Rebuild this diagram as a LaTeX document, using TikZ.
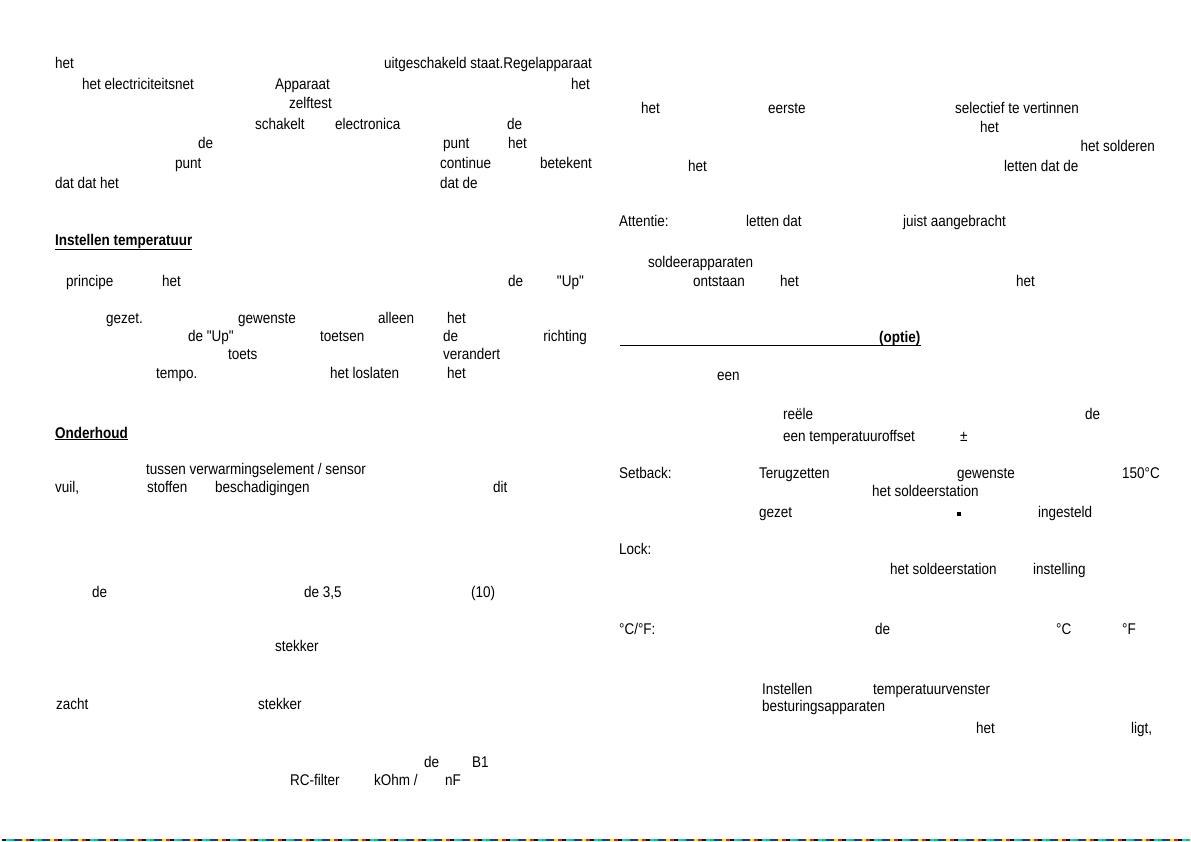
\documentclass[tikz,border=0pt]{standalone}
\usepackage{fontspec}
\setmainfont{Liberation Sans}[FakeStretch=0.87, Ligatures=TeXOff]
\usetikzlibrary{positioning}
\definecolor{scan0}{RGB}{20,20,20}
\definecolor{scan1}{RGB}{0,60,255}
\definecolor{scan2}{RGB}{230,30,30}
\definecolor{scan3}{RGB}{0,210,90}
\definecolor{scan4}{RGB}{250,230,0}
\definecolor{scan5}{RGB}{0,220,230}
\definecolor{scan6}{RGB}{60,60,60}

\begin{document}
\begin{tikzpicture}[x=1pt, y=-1pt, font=\fontsize{15.5}{17}\selectfont]
\tikzstyle{word}=[anchor=base west, inner sep=0pt, text=black]
\tikzstyle{wordr}=[word, anchor=base east]
\tikzstyle{head}=[word, font=\fontsize{15.5}{17}\selectfont\bfseries]
\useasboundingbox (0,0) rectangle (1191,841);
% left column
\node[word]  (A1) at (55,68)   {het};
\node[wordr] (A2) at (592,68)  {uitgeschakeld staat.Regelapparaat};
\node[word]  (A3) at (82,89)   {het electriciteitsnet};
\node[word]  (A4) at (275,89)  {Apparaat};
\node[wordr] (A5) at (590,89)  {het};
\node[word]  (A6) at (289,108) {zelftest};
\node[word]  (A7) at (255,129) {schakelt};
\node[word]  (A8) at (335,129) {electronica};
\node[word]  (A9) at (507,129) {de};
\node[word]  (A10) at (198,148) {de};
\node[word]  (A11) at (443,148) {punt};
\node[word]  (A12) at (508,148) {het};
\node[word]  (A13) at (175,168) {punt};
\node[word]  (A14) at (440,168) {continue};
\node[wordr] (A15) at (592,168) {betekent};
\node[word]  (A16) at (55,188)  {dat dat het};
\node[word]  (A17) at (440,188) {dat de};

\node[head]  (B0) at (55,245)  {\underline{Instellen temperatuur}};
\node[word]  (B1) at (66,286)  {principe};
\node[word]  (B2) at (162,286) {het};
\node[word]  (B3) at (508,286) {de};
\node[wordr] (B4) at (584,286) {"Up"};
\node[word]  (B5) at (106,323) {gezet.};
\node[word]  (B6) at (238,323) {gewenste};
\node[word]  (B7) at (378,323) {alleen};
\node[word]  (B8) at (447,323) {het};
\node[word]  (B9) at (188,341) {de "Up"};
\node[word]  (B10) at (320,341) {toetsen};
\node[word]  (B11) at (443,341) {de};
\node[wordr] (B12) at (587,341) {richting};
\node[word]  (B13) at (228,359) {toets};
\node[word]  (B14) at (443,359) {verandert};
\node[word]  (B15) at (156,378) {tempo.};
\node[word]  (B16) at (330,378) {het loslaten};
\node[word]  (B17) at (447,378) {het};

\node[head]  (C0) at (55,438)  {\underline{Onderhoud}};
\node[word]  (C1) at (146,474) {tussen verwarmingselement / sensor};
\node[word]  (C2) at (55,492)  {vuil,};
\node[word]  (C3) at (147,492) {stoffen};
\node[word]  (C4) at (215,492) {beschadigingen};
\node[word]  (C5) at (493,492) {dit};
\node[word]  (C6) at (92,597)  {de};
\node[word]  (C7) at (304,597) {de 3,5};
\node[word]  (C8) at (471,597) {(10)};
\node[word]  (C9) at (275,651) {stekker};
\node[word]  (C10) at (56,709) {zacht};
\node[word]  (C11) at (258,709) {stekker};
\node[word]  (C12) at (424,767) {de};
\node[word]  (C13) at (472,767) {B1};
\node[word]  (C14) at (290,785) {RC-filter};
\node[word]  (C15) at (374,785) {kOhm /};
\node[word]  (C16) at (445,785) {nF};

% right column
\node[word]  (D1) at (641,113)  {het};
\node[word]  (D2) at (768,113)  {eerste};
\node[word]  (D3) at (955,113)  {selectief te vertinnen};
\node[word]  (D4) at (980,132)  {het};
\node[wordr] (D5) at (1155,151) {het solderen};
\node[word]  (D6) at (688,171)  {het};
\node[word]  (D7) at (1004,171) {letten dat de};
\node[word]  (D8) at (619,226)  {Attentie:};
\node[word]  (D9) at (746,226)  {letten dat};
\node[word]  (D10) at (903,226) {juist aangebracht};
\node[word]  (D11) at (648,267) {soldeerapparaten};
\node[word]  (D12) at (693,286) {ontstaan};
\node[word]  (D13) at (780,286) {het};
\node[word]  (D14) at (1016,286) {het};

\coordinate (E0) at (620,342);
\node[head]  (E1) at (879,342)  {(optie)};
\draw[line width=1pt] ([yshift=-3pt]E0) -- ([yshift=-3pt]E1.base east);
\node[word]  (E2) at (717,380)  {een};
\node[word]  (E3) at (783,419)  {reële};
\node[word]  (E4) at (1085,419) {de};
\node[word]  (E5) at (783,441)  {een temperatuuroffset};
\node[word]  (E6) at (960,441)  {±};
\node[word]  (E7) at (619,478)  {Setback:};
\node[word]  (E8) at (759,478)  {Terugzetten};
\node[word]  (E9) at (957,478)  {gewenste};
\node[word]  (E10) at (1122,478) {150°C};
\node[word]  (E11) at (872,496) {het soldeerstation};
\node[word]  (E12) at (759,517) {gezet};
\node[word]  (E13) at (957,516) {\rule{4pt}{4pt}};
\node[word]  (E14) at (1038,517) {ingesteld};
\node[word]  (E15) at (619,554) {Lock:};
\node[word]  (E16) at (890,574) {het soldeerstation};
\node[word]  (E17) at (1033,574) {instelling};
\node[word]  (E18) at (619,634) {°C/°F:};
\node[word]  (E19) at (875,634) {de};
\node[word]  (E20) at (1056,634) {°C};
\node[word]  (E21) at (1122,634) {°F};
\node[word]  (E22) at (762,694) {Instellen};
\node[word]  (E23) at (873,694) {temperatuurvenster};
\node[word]  (E24) at (762,711) {besturingsapparaten};
\node[word]  (E25) at (976,733) {het};
\node[word]  (E26) at (1131,733) {ligt,};

% scan edge
\foreach \i in {0,...,296}{
  \pgfmathtruncatemacro{\k}{mod(\i*5,7)}
  \draw[line width=1.5pt, color=scan\k] (2+4*\i,840) -- (6+4*\i,840);
}
\end{tikzpicture}
\end{document}
